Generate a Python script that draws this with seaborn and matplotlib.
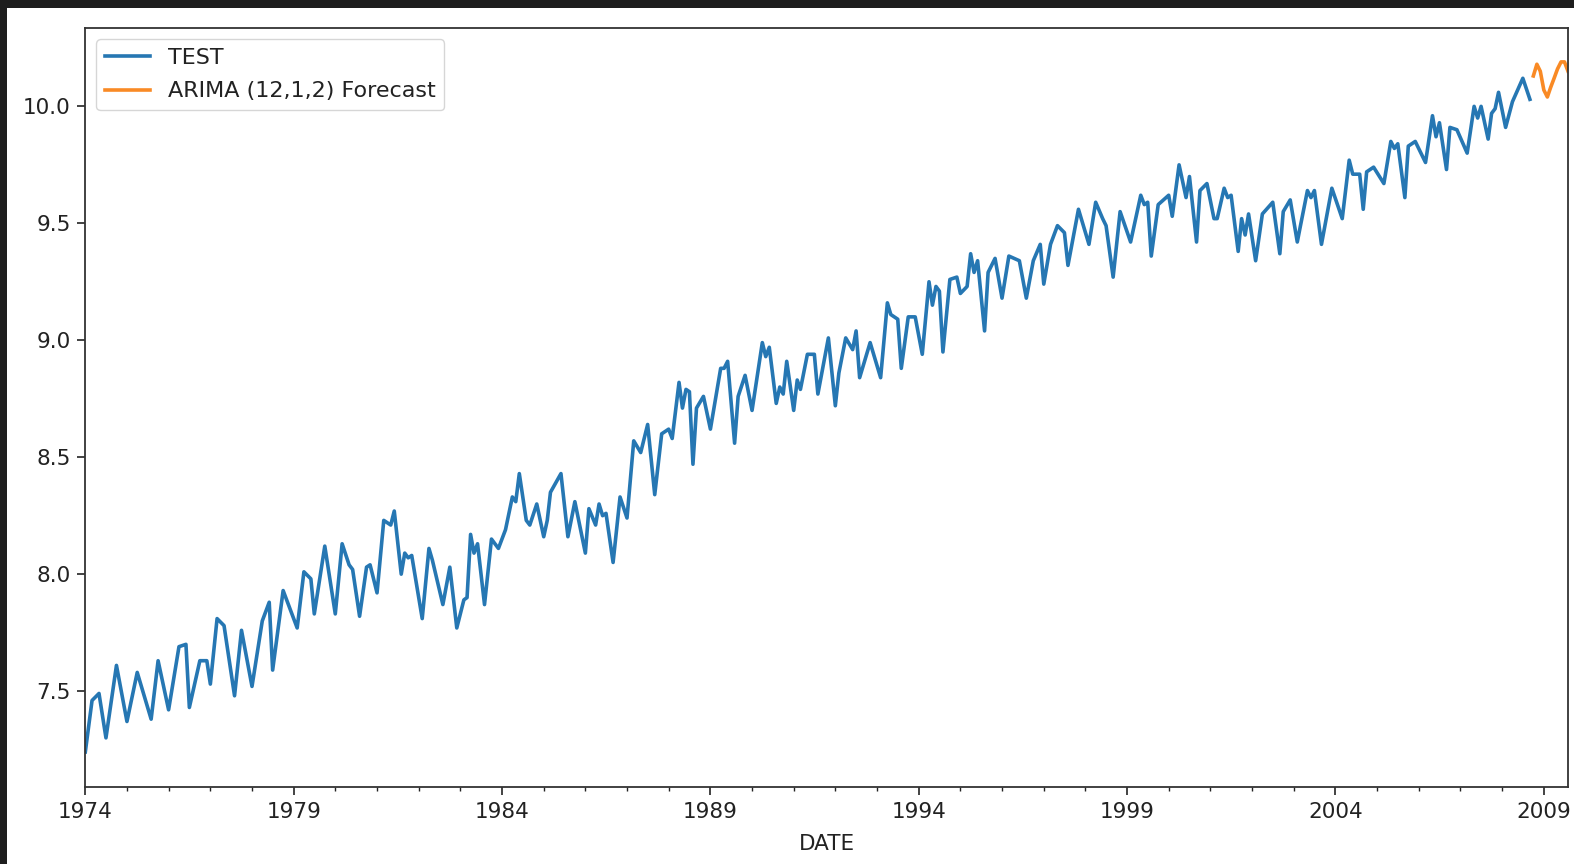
import pandas as pd
import numpy as np
import matplotlib
matplotlib.use("Agg")
import matplotlib.pyplot as plt
import matplotlib.dates as mdates
from matplotlib.ticker import FixedLocator, FormatStrFormatter
from matplotlib.patches import Rectangle
import seaborn as sns

# month offsets from Jan 1974 and log values (turning points)
test_month = [
    0, 2, 4, 6, 9, 12, 15, 19, 21, 24, 27, 29, 30, 33, 35, 36, 38, 40, 43, 45,
    48, 51, 53, 54, 57, 61, 63, 65, 66, 69, 72, 74, 76, 77, 79, 81, 82, 84, 86, 88,
    89, 91, 92, 93, 94, 97, 99, 100, 103, 105, 107, 109, 110, 111, 112, 113, 115, 117, 119, 121,
    123, 124, 125, 127, 128, 130, 132, 133, 134, 137, 139, 141, 144, 145, 147, 148, 149, 150, 152, 154,
    156, 158, 160, 162, 164, 166, 168, 169, 171, 172, 173, 174, 175, 176, 178, 180, 183, 184, 185, 187,
    188, 190, 192, 195, 196, 197, 199, 200, 201, 202, 204, 205, 206, 208, 210, 211, 214, 216, 217, 219,
    221, 222, 223, 226, 229, 231, 232, 234, 235, 237, 239, 241, 243, 244, 245, 246, 247, 249, 251, 252,
    254, 255, 256, 257, 259, 260, 262, 264, 266, 269, 271, 273, 275, 276, 278, 280, 282, 283, 286, 289,
    291, 293, 294, 296, 298, 301, 304, 305, 306, 307, 309, 312, 313, 315, 317, 318, 320, 321, 323, 325,
    326, 328, 329, 330, 332, 333, 334, 335, 337, 339, 342, 344, 345, 347, 349, 350, 352, 353, 354, 356,
    359, 362, 364, 365, 367, 368, 369, 371, 374, 376, 377, 378, 380, 381, 383, 386, 388, 389, 390, 392,
    393, 395, 398, 400, 401, 402, 404, 405, 406, 407, 409, 411, 414, 416,
]
test_value = [
    7.24, 7.46, 7.49, 7.30, 7.61, 7.37, 7.58, 7.38, 7.63, 7.42, 7.69, 7.70, 7.43, 7.63, 7.63, 7.53, 7.81, 7.78, 7.48, 7.76,
    7.52, 7.80, 7.88, 7.59, 7.93, 7.77, 8.01, 7.98, 7.83, 8.12, 7.83, 8.13, 8.04, 8.02, 7.82, 8.03, 8.04, 7.92, 8.23, 8.21,
    8.27, 8.00, 8.09, 8.07, 8.08, 7.81, 8.11, 8.06, 7.87, 8.03, 7.77, 7.89, 7.90, 8.17, 8.09, 8.13, 7.87, 8.15, 8.11, 8.19,
    8.33, 8.31, 8.43, 8.23, 8.21, 8.30, 8.16, 8.23, 8.35, 8.43, 8.16, 8.31, 8.09, 8.28, 8.21, 8.30, 8.25, 8.26, 8.05, 8.33,
    8.24, 8.57, 8.52, 8.64, 8.34, 8.60, 8.62, 8.58, 8.82, 8.71, 8.79, 8.78, 8.47, 8.71, 8.76, 8.62, 8.88, 8.88, 8.91, 8.56,
    8.76, 8.85, 8.70, 8.99, 8.93, 8.97, 8.73, 8.80, 8.77, 8.91, 8.70, 8.83, 8.79, 8.94, 8.94, 8.77, 9.01, 8.72, 8.86, 9.01,
    8.96, 9.04, 8.84, 8.99, 8.84, 9.16, 9.11, 9.09, 8.88, 9.10, 9.10, 8.94, 9.25, 9.15, 9.23, 9.21, 8.95, 9.26, 9.27, 9.20,
    9.23, 9.37, 9.29, 9.34, 9.04, 9.29, 9.35, 9.18, 9.36, 9.34, 9.18, 9.34, 9.41, 9.24, 9.41, 9.49, 9.46, 9.32, 9.56, 9.41,
    9.59, 9.52, 9.49, 9.27, 9.55, 9.42, 9.62, 9.58, 9.59, 9.36, 9.58, 9.62, 9.53, 9.75, 9.61, 9.70, 9.42, 9.64, 9.67, 9.52,
    9.52, 9.65, 9.61, 9.62, 9.38, 9.52, 9.45, 9.54, 9.34, 9.54, 9.59, 9.37, 9.55, 9.60, 9.42, 9.49, 9.64, 9.61, 9.64, 9.41,
    9.65, 9.52, 9.77, 9.71, 9.71, 9.56, 9.72, 9.74, 9.67, 9.85, 9.82, 9.84, 9.61, 9.83, 9.85, 9.76, 9.96, 9.87, 9.93, 9.73,
    9.91, 9.90, 9.80, 10.00, 9.95, 10.00, 9.86, 9.97, 9.99, 10.06, 9.91, 10.02, 10.12, 10.03,
]

forecast_month = [417, 418, 419, 420, 421, 422, 423, 424, 425, 426, 427]
forecast_value = [10.13, 10.18, 10.15, 10.07, 10.04, 10.08, 10.12, 10.16, 10.19, 10.19, 10.15]

tick_years = [1974, 1979, 1984, 1989, 1994, 1999, 2004, 2009]
y_ticks = [7.5, 8.0, 8.5, 9.0, 9.5, 10.0]

START = pd.Timestamp("1974-01-01")


def to_dates(months):
    return [START + pd.DateOffset(months=int(m)) for m in months]


test_df = pd.DataFrame({"DATE": to_dates(test_month), "value": test_value})
fc_df = pd.DataFrame({"DATE": to_dates(forecast_month), "value": forecast_value})

plt.rcParams["font.family"] = ["DejaVu Sans"]

fig = plt.figure(figsize=(15.74, 8.64), dpi=100, facecolor="#1e1e1e")
# screenshot look: dark strip on top and left
fig.add_artist(Rectangle((7 / 1574, 0), 1, 1 - 8 / 864, transform=fig.transFigure,
                         facecolor="white", edgecolor="none", zorder=-1))
ax = fig.add_axes([0.0542, 0.0891, 0.942, 0.8785])

sns.lineplot(data=test_df, x="DATE", y="value", ax=ax, color="#2677b3", linewidth=2.6,
             solid_joinstyle="round", label="TEST")
sns.lineplot(data=fc_df, x="DATE", y="value", ax=ax, color="#f98a25", linewidth=2.6,
             solid_joinstyle="round", label="ARIMA (12,1,2) Forecast")

ax.set_xlim(START, START + pd.DateOffset(months=427))
ax.set_ylim(7.09, 10.335)

ax.xaxis.set_major_locator(FixedLocator(mdates.date2num([pd.Timestamp(f"{y}-01-01") for y in tick_years])))
ax.xaxis.set_major_formatter(mdates.DateFormatter("%Y"))
ax.xaxis.set_minor_locator(mdates.YearLocator(1))
ax.yaxis.set_major_locator(FixedLocator(y_ticks))
ax.yaxis.set_major_formatter(FormatStrFormatter("%.1f"))

ax.tick_params(axis="both", which="major", length=5.5, width=1.2, pad=5, labelsize=15.5, colors="#222222")
ax.tick_params(axis="x", which="minor", length=3, width=1.0, colors="#222222")
for side in ["left", "right", "top", "bottom"]:
    ax.spines[side].set_linewidth(1.3)
    ax.spines[side].set_color("#333333")

ax.set_xlabel("DATE", fontsize=15.5, labelpad=9, color="#222222")
ax.set_ylabel("")
leg = ax.legend(loc="upper left", fontsize=16, frameon=True, borderaxespad=0.5, labelspacing=0.6)
for t in leg.get_texts():
    t.set_color("#222222")

fig.savefig("out.png", dpi=100, facecolor=fig.get_facecolor())
